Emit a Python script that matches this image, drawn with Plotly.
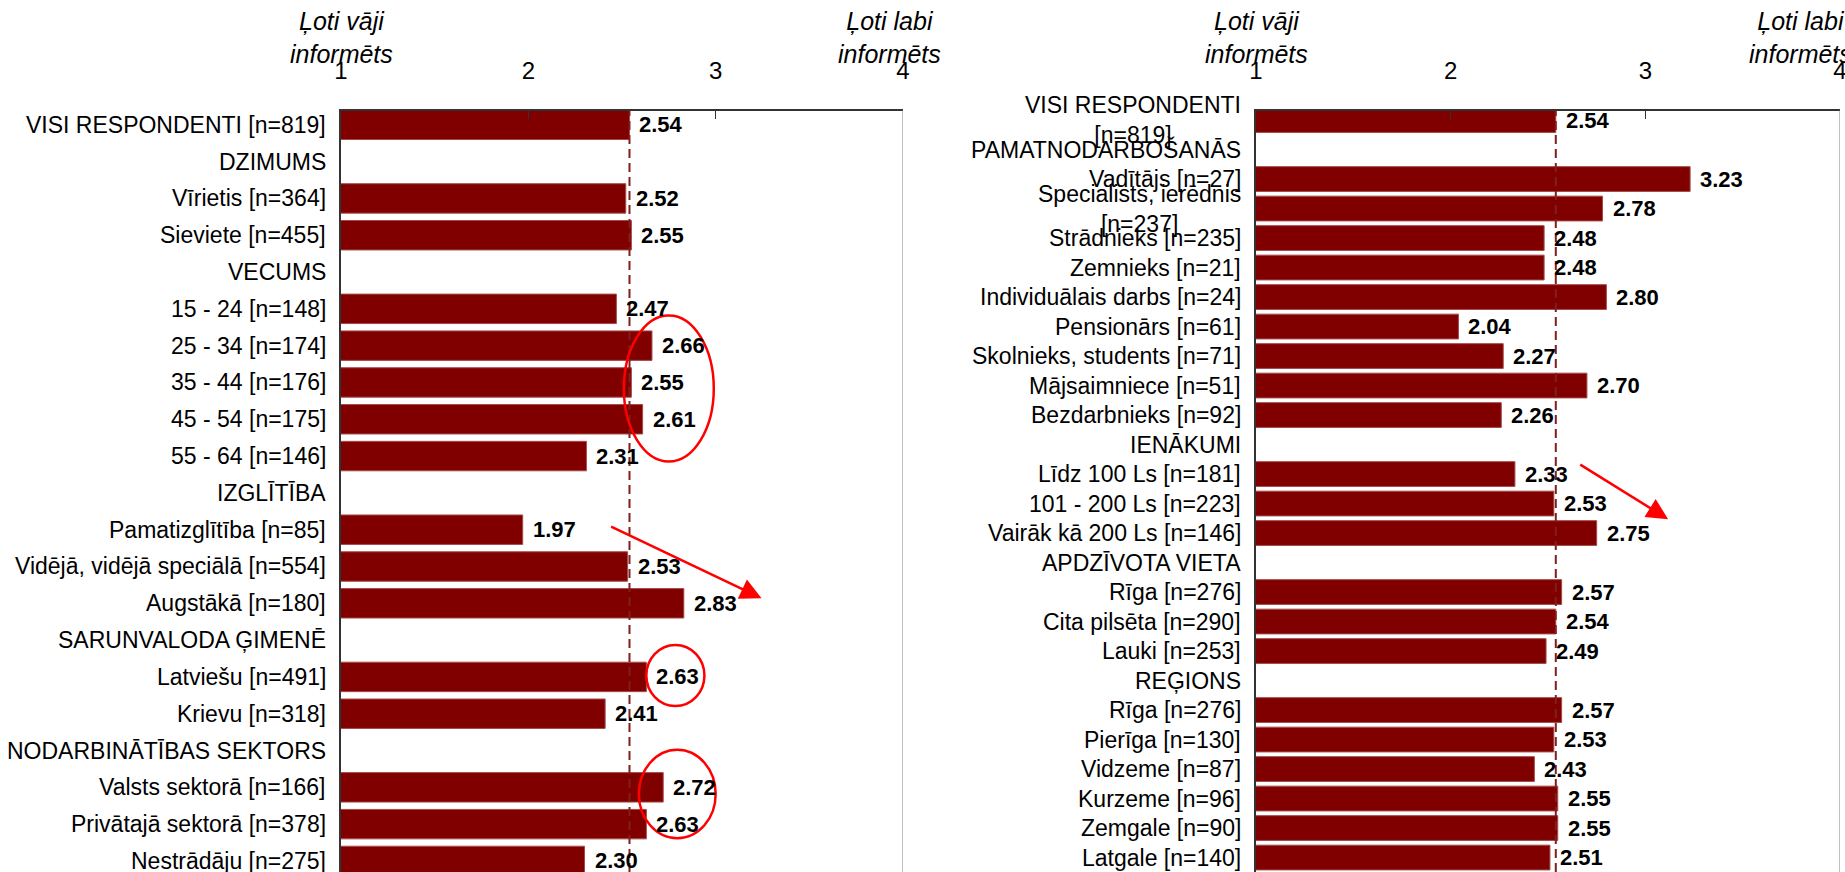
import plotly.graph_objects as go

# ---------------- data ----------------
left_labels = [
    "VISI RESPONDENTI [n=819]", "DZIMUMS", "Vīrietis [n=364]", "Sieviete [n=455]",
    "VECUMS", "15 - 24 [n=148]", "25 - 34 [n=174]", "35 - 44 [n=176]", "45 - 54 [n=175]",
    "55 - 64 [n=146]", "IZGLĪTĪBA", "Pamatizglītība [n=85]", "Vidējā, vidējā speciālā [n=554]",
    "Augstākā [n=180]", "SARUNVALODA ĢIMENĒ", "Latviešu [n=491]", "Krievu [n=318]",
    "NODARBINĀTĪBAS SEKTORS", "Valsts sektorā [n=166]", "Privātajā sektorā [n=378]",
    "Nestrādāju [n=275]",
]
left_values = [
    2.54, None, 2.52, 2.55,
    None, 2.47, 2.66, 2.55, 2.61,
    2.31, None, 1.97, 2.53,
    2.83, None, 2.63, 2.41,
    None, 2.72, 2.63,
    2.30,
]

right_labels = [
    "VISI RESPONDENTI<br>[n=819]", "PAMATNODARBOŠANĀS", "Vadītājs [n=27]",
    "Specialists, ierēdnis<br>[n=237]", "Strādnieks [n=235]", "Zemnieks [n=21]",
    "Individuālais darbs [n=24]", "Pensionārs [n=61]", "Skolnieks, students [n=71]",
    "Mājsaimniece [n=51]", "Bezdarbnieks [n=92]", "IENĀKUMI", "Līdz 100 Ls [n=181]",
    "101 - 200 Ls [n=223]", "Vairāk kā 200 Ls [n=146]", "APDZĪVOTA VIETA", "Rīga [n=276]",
    "Cita pilsēta [n=290]", "Lauki [n=253]", "REĢIONS", "Rīga [n=276]", "Pierīga [n=130]",
    "Vidzeme [n=87]", "Kurzeme [n=96]", "Zemgale [n=90]", "Latgale [n=140]",
]
right_values = [
    2.54, None, 3.23,
    2.78, 2.48, 2.48,
    2.80, 2.04, 2.27,
    2.70, 2.26, None, 2.33,
    2.53, 2.75, None, 2.57,
    2.54, 2.49, None, 2.57, 2.53,
    2.43, 2.55, 2.55, 2.51,
]

x_ticks = [1, 2, 3, 4]
average = 2.54
scale_low = "Ļoti vāji<br>informēts"
scale_high = "Ļoti labi<br>informēts"

# ---------------- style ----------------
FONT = "Liberation Sans, Arial, sans-serif"
BAR = "#800000"
W, H = 1845, 872

fig = go.Figure()

panels = [
    dict(labels=left_labels, values=left_values, xa="x", ya="y", width=0.8,
         dom=[341 / W, 903 / W], yrange=[20.30, -0.386], hi_shift=-14),
    dict(labels=right_labels, values=right_values, xa="x2", ya="y2", width=0.84,
         dom=[1256 / W, 1840 / W], yrange=[25.49, -0.32], hi_shift=-40),
]

annotations = []
shapes = []
for k, p in enumerate(panels):
    idx = list(range(len(p["labels"])))
    fig.add_trace(go.Bar(
        orientation="h", x=p["values"], y=idx, xaxis=p["xa"], yaxis=p["ya"],
        marker=dict(color=BAR, line=dict(color="#a54a4a", width=1)),
        width=p["width"], showlegend=False, hoverinfo="x+y",
    ))
    xdomref = f"{p['xa']} domain"
    for i, lab in zip(idx, p["labels"]):
        annotations.append(dict(
            x=0, y=i, xref=xdomref, yref=p["ya"], text=lab, showarrow=False,
            xanchor="right", yanchor="middle", align="center", xshift=-13,
            font=dict(family=FONT, size=23, color="black"),
        ))
    for i, v in zip(idx, p["values"]):
        if v is None:
            continue
        annotations.append(dict(
            x=v, y=i, xref=p["xa"], yref=p["ya"], text=f"<b>{v:.2f}</b>",
            showarrow=False, xanchor="left", yanchor="middle", xshift=8,
            font=dict(family=FONT, size=22, color="black"),
        ))
    suffix = "" if k == 0 else "2"
    layout_x = dict(
        domain=p["dom"], range=[1, 4], side="top", anchor=p["ya"],
        tickvals=x_ticks, ticktext=[str(t) for t in x_ticks],
        ticks="inside", ticklen=9, tickcolor="#333", showgrid=False,
        showline=True, linecolor="#333", linewidth=1.5, zeroline=False,
        tickfont=dict(family=FONT, size=24, color="black"), ticklabelstandoff=20,
        ticklabeloverflow="allow", fixedrange=True, automargin=False,
    )
    layout_y = dict(
        domain=[0, 1 - 110.6 / H], range=p["yrange"], anchor=p["xa"],
        showticklabels=False, ticks="", showgrid=False,
        showline=True, linecolor="#333", linewidth=1.5, zeroline=False,
        fixedrange=True, automargin=False,
    )
    fig.update_layout(**{f"xaxis{suffix}": layout_x, f"yaxis{suffix}": layout_y})
    ydomref = f"{p['ya']} domain"
    # average dashed line
    shapes.append(dict(type="line", xref=p["xa"], yref=ydomref, x0=average, x1=average,
                       y0=0, y1=1, line=dict(color="#7f1f1f", width=2, dash="9px,5px"), layer="above"))
    # right border
    shapes.append(dict(type="line", xref=p["xa"], yref=ydomref, x0=4, x1=4, y0=0, y1=1,
                       line=dict(color="#999", width=1.2)))
    for txt, xv, sh in ((scale_low, 1, 0), (scale_high, 4, p["hi_shift"])):
        annotations.append(dict(
            x=xv, y=1 - 37 / H, xref=p["xa"], yref="paper", text=f"<i>{txt}</i>",
            showarrow=False, xanchor="center", yanchor="middle", xshift=sh,
            font=dict(family=FONT, size=25, color="black"),
        ))

# red highlight ellipses (left panel)
for x0, x1, y0, y1 in [(2.51, 2.99, 5.18, 9.15), (2.63, 2.94, 14.13, 15.79), (2.59, 3.0, 16.98, 19.38)]:
    shapes.append(dict(type="circle", xref="x", yref="y", x0=x0, x1=x1, y0=y0, y1=y1,
                       line=dict(color="#ff0000", width=2.5), layer="above"))

# red trend arrows
for xa, ya, tx, ty, ax, ay in [("x", "y", 3.245, 12.86, 2.434, 10.9),
                                ("x2", "y2", 3.117, 13.53, 2.658, 11.65)]:
    annotations.append(dict(
        x=tx, y=ty, xref=xa, yref=ya, ax=ax, ay=ay, axref=xa, ayref=ya,
        showarrow=True, arrowhead=2, arrowsize=1.7, arrowwidth=2.5, arrowcolor="#ff0000", text="",
    ))

fig.update_layout(
    width=W, height=H, margin=dict(l=0, r=0, t=0, b=0, autoexpand=False),
    paper_bgcolor="white", plot_bgcolor="white",
    annotations=annotations, shapes=shapes, bargap=0.2,
)

fig.write_html(
    "out.html",
    config={"displayModeBar": False},
    post_script="document.body.style.margin='0px';document.body.style.overflow='hidden';",
)
